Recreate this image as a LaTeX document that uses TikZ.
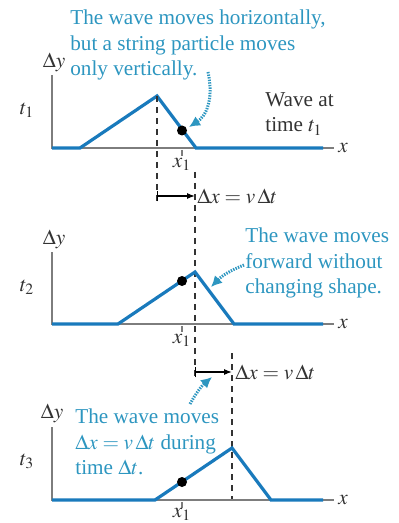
\documentclass[tikz,border=0pt]{standalone}
\usepackage{mathptmx}
\usepackage{fontspec}
\setmainfont{Liberation Serif}
\usepackage{tikz}
\usetikzlibrary{arrows.meta,calc}
\definecolor{waveblue}{RGB}{25,122,188}
\definecolor{notecyan}{RGB}{45,150,192}
\definecolor{axisgray}{RGB}{125,125,125}

\begin{document}
\begin{tikzpicture}[
  x=0.5pt, y=-0.5pt,
  axis/.style={axisgray, line width=0.8pt},
  wave/.style={waveblue, line width=1.6pt, line join=miter},
  guide/.style={dashed, black!80, line width=0.6pt, dash pattern=on 3pt off 2.5pt},
  shiftarr/.style={|-{Latex[length=4pt,width=3pt]}, line width=0.6pt},
  pointer/.style={-{Latex[length=5.5pt,width=5.5pt]}, notecyan, line width=1.5pt,
                  dash pattern=on 0.7pt off 0.6pt},
  note/.style={notecyan, align=left, font=\fontsize{10.6}{12.8}\selectfont, inner sep=0pt},
  lbl/.style={black!80, font=\fontsize{10.6}{12.5}\selectfont, inner sep=0pt},
  dot/.style={circle, fill=black, inner sep=0pt, minimum size=5pt}
]
\useasboundingbox (0,0) rectangle (398,523);

%% ---- Panel t1 ----
\draw[axis] (52,75) -- (52,148) -- (334,148);
\node[lbl, anchor=west] (xa) at (338,148) {$x$};
\node[lbl] (dya) at (54,62) {$\Delta y$};
\node[lbl] (ta) at (27,110) {$t_1$};
\draw[wave] (52,148) -- (80,148) -- (157,96) -- (196,148) -- (323,148);
\node[dot] (pa) at (182,130.5) {};
\draw[axis, line width=0.6pt] (182,150) -- (182,156);
\node[lbl] (xoa) at (182,164) {$x_1$};
\node[note] (texta) at (198,45)
  {The wave moves horizontally,\\but a string particle moves\\only vertically.};
\node[lbl, align=left, anchor=west] (wavea) at (265,114) {Wave at\\time $t_1$};
\coordinate (ca) at (208,72);
\coordinate (cb) at (189,127);
\draw[pointer] (ca) .. controls (214,100) and (206,116) .. (cb);

%% ---- Shift t1 -> t2 ----
\draw[guide] (157,96) -- (157,202);
\coordinate (sa) at (157,196);
\coordinate (sb) at (195,196);
\draw[shiftarr] (sa) -- (sb);
\node[lbl, anchor=west] (dxa) at (197,196) {$\Delta x = v\,\Delta t$};

%% ---- Panel t2 ----
\draw[guide] (195,172) -- (195,378);
\draw[axis] (52,252) -- (52,324) -- (334,324);
\node[lbl, anchor=west] (xb) at (338,324) {$x$};
\node[lbl] (dyb) at (54,239) {$\Delta y$};
\node[lbl] (tb) at (27,287) {$t_2$};
\draw[wave] (52,324) -- (118,324) -- (195,272) -- (234,324) -- (323,324);
\node[dot] (pb) at (182,281) {};
\draw[axis, line width=0.6pt] (182,326) -- (182,332);
\node[lbl] (xob) at (182,340) {$x_1$};
\node[note, anchor=west] (textb) at (245,263)
  {The wave moves\\forward without\\changing shape.};
\coordinate (cc) at (244,265);
\coordinate (cd) at (211,287);
\draw[pointer] (cc) to[bend right=12] (cd);

%% ---- Shift t2 -> t3 ----
\coordinate (sc) at (195,372);
\coordinate (sd) at (232,372);
\draw[shiftarr] (sc) -- (sd);
\node[lbl, anchor=west] (dxb) at (235,372) {$\Delta x = v\,\Delta t$};

%% ---- Panel t3 ----
\draw[guide] (232,353) -- (232,500);
\draw[axis] (52,427) -- (52,500) -- (334,500);
\node[lbl, anchor=west] (xc) at (338,500) {$x$};
\node[lbl] (dyc) at (52,413) {$\Delta y$};
\node[lbl] (tc) at (27,461) {$t_3$};
\draw[wave] (52,500) -- (155,500) -- (232,448) -- (271,500) -- (323,500);
\node[dot] (pc) at (182,482) {};
\draw[axis, line width=0.6pt] (182,502) -- (182,508);
\node[lbl] (xoc) at (182,514) {$x_1$};
\node[note, anchor=west] (textc) at (75,442)
  {The wave moves\\$\Delta x = v\,\Delta t$ during\\time $\Delta t$.};
\coordinate (ce) at (190,404);
\coordinate (cf) at (212,377);
\draw[pointer] (ce) to[bend left=10] (cf);
\end{tikzpicture}
\end{document}
